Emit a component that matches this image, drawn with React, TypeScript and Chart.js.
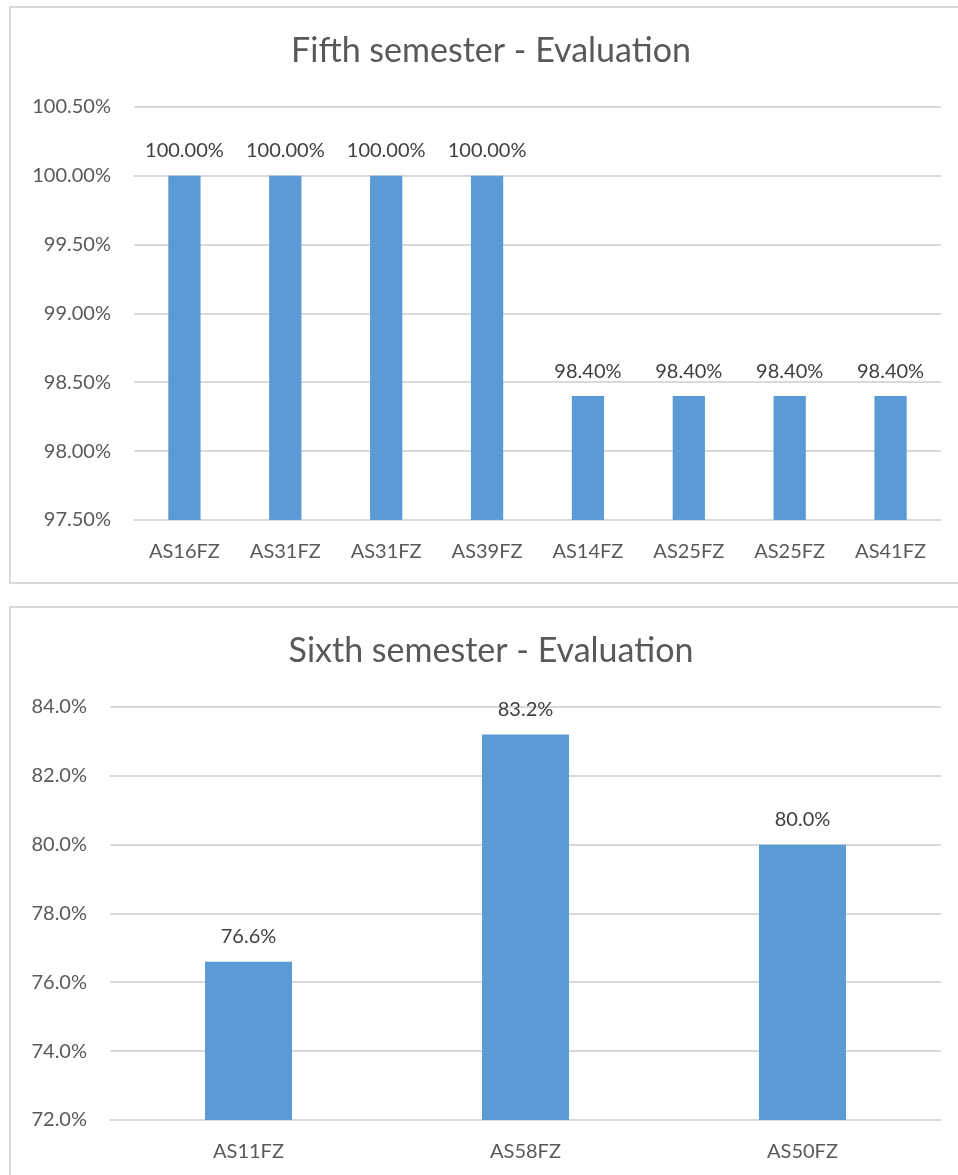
import React, { useEffect, useRef } from "react";
import { Chart, registerables } from "chart.js";

Chart.register(...registerables);

const fifthLabels = ["AS16FZ", "AS31FZ", "AS31FZ", "AS39FZ", "AS14FZ", "AS25FZ", "AS25FZ", "AS41FZ"];
const fifthValues = [100.0, 100.0, 100.0, 100.0, 98.4, 98.4, 98.4, 98.4];
const fifthTitle = "Fifth semester - Evaluation";
const fifthMin = 97.5;
const fifthMax = 100.5;
const fifthStep = 0.5;

const sixthLabels = ["AS11FZ", "AS58FZ", "AS50FZ"];
const sixthValues = [76.6, 83.2, 80.0];
const sixthTitle = "Sixth semester - Evaluation";
const sixthMin = 72;
const sixthMax = 84;
const sixthStep = 2;

const FONT = "Lato, 'Open Sans', sans-serif";
const BAR = "#5B9BD5";
const TEXT = "#595959";
const LABEL = "#404040";
const GRID = "#D9D9D9";

const valueLabelPlugin = {
  id: "valueLabels",
  afterDatasetsDraw(chart: any) {
    const opts = chart.options.plugins.valueLabels || {};
    const decimals = opts.decimals ?? 1;
    const ctx = chart.ctx;
    ctx.save();
    ctx.font = `20px ${FONT}`;
    ctx.fillStyle = LABEL;
    ctx.textAlign = "center";
    ctx.textBaseline = "middle";
    chart.data.datasets.forEach((ds: any, di: number) => {
      const meta = chart.getDatasetMeta(di);
      meta.data.forEach((bar: any, i: number) => {
        const v = ds.data[i];
        ctx.fillText(v.toFixed(decimals) + "%", bar.x, bar.y - 25);
      });
    });
    ctx.restore();
  },
};

const centeredTitlePlugin = {
  id: "centeredTitle",
  afterDraw(chart: any) {
    const opts = chart.options.plugins.centeredTitle || {};
    if (!opts.text) return;
    const ctx = chart.ctx;
    ctx.save();
    ctx.font = `34px ${FONT}`;
    ctx.fillStyle = TEXT;
    ctx.textAlign = "center";
    ctx.textBaseline = "middle";
    ctx.fillText(opts.text, chart.width / 2, 43);
    ctx.restore();
  },
};

function makeConfig(
  labels: string[],
  values: number[],
  title: string,
  min: number,
  max: number,
  step: number,
  decimals: number,
  yWidth: number,
  barPct: number
): any {
  return {
    type: "bar",
    data: {
      labels,
      datasets: [
        {
          data: values,
          backgroundColor: BAR,
          barPercentage: barPct,
          categoryPercentage: 1,
        },
      ],
    },
    options: {
      responsive: false,
      animation: false,
      layout: { padding: { left: 0, right: 30, top: 99, bottom: 0 } },
      plugins: {
        legend: { display: false },
        tooltip: { enabled: false },
        title: { display: false },
        centeredTitle: { text: title },
        valueLabels: { decimals },
      },
      scales: {
        x: {
          grid: { display: false },
          border: { display: false },
          ticks: {
            color: TEXT,
            font: { family: FONT, size: 20 },
            padding: 12,
            maxRotation: 0,
            autoSkip: false,
          },
          afterFit(scale: any) {
            scale.height = 63;
          },
        },
        y: {
          min,
          max,
          grid: { color: GRID, lineWidth: 2, drawTicks: false },
          border: { display: false },
          ticks: {
            stepSize: step,
            color: TEXT,
            font: { family: FONT, size: 20 },
            padding: 23,
            callback: (v: any) => Number(v).toFixed(decimals) + "%",
          },
          afterFit(scale: any) {
            scale.width = yWidth;
          },
        },
      },
    },
    plugins: [valueLabelPlugin, centeredTitlePlugin],
  };
}

function ChartBox(props: { top: number; height: number; config: any }) {
  const ref = useRef<HTMLCanvasElement>(null);
  useEffect(() => {
    if (!ref.current) return;
    const c = new Chart(ref.current, props.config);
    return () => c.destroy();
  }, []);
  return (
    <div
      style={{
        position: "absolute",
        left: 9,
        top: props.top,
        width: 964,
        height: props.height,
        border: "2px solid #D9D9D9",
        boxSizing: "border-box",
        background: "#fff",
      }}
    >
      <canvas
        ref={ref}
        width={960}
        height={575}
        style={{ position: "absolute", left: 0, top: 0, width: 960, height: 575 }}
      />
    </div>
  );
}

export default function App() {
  const cfg1 = makeConfig(fifthLabels, fifthValues, fifthTitle, fifthMin, fifthMax, fifthStep, 2, 123, 0.32);
  const cfg2 = makeConfig(sixthLabels, sixthValues, sixthTitle, sixthMin, sixthMax, sixthStep, 1, 99, 0.314);
  return (
    <div
      style={{
        position: "absolute",
        left: 0,
        top: 0,
        width: 958,
        height: 1175,
        overflow: "hidden",
        background: "#fff",
      }}
    >
      <ChartBox top={6} height={578} config={cfg1} />
      <ChartBox top={606} height={600} config={cfg2} />
    </div>
  );
}
